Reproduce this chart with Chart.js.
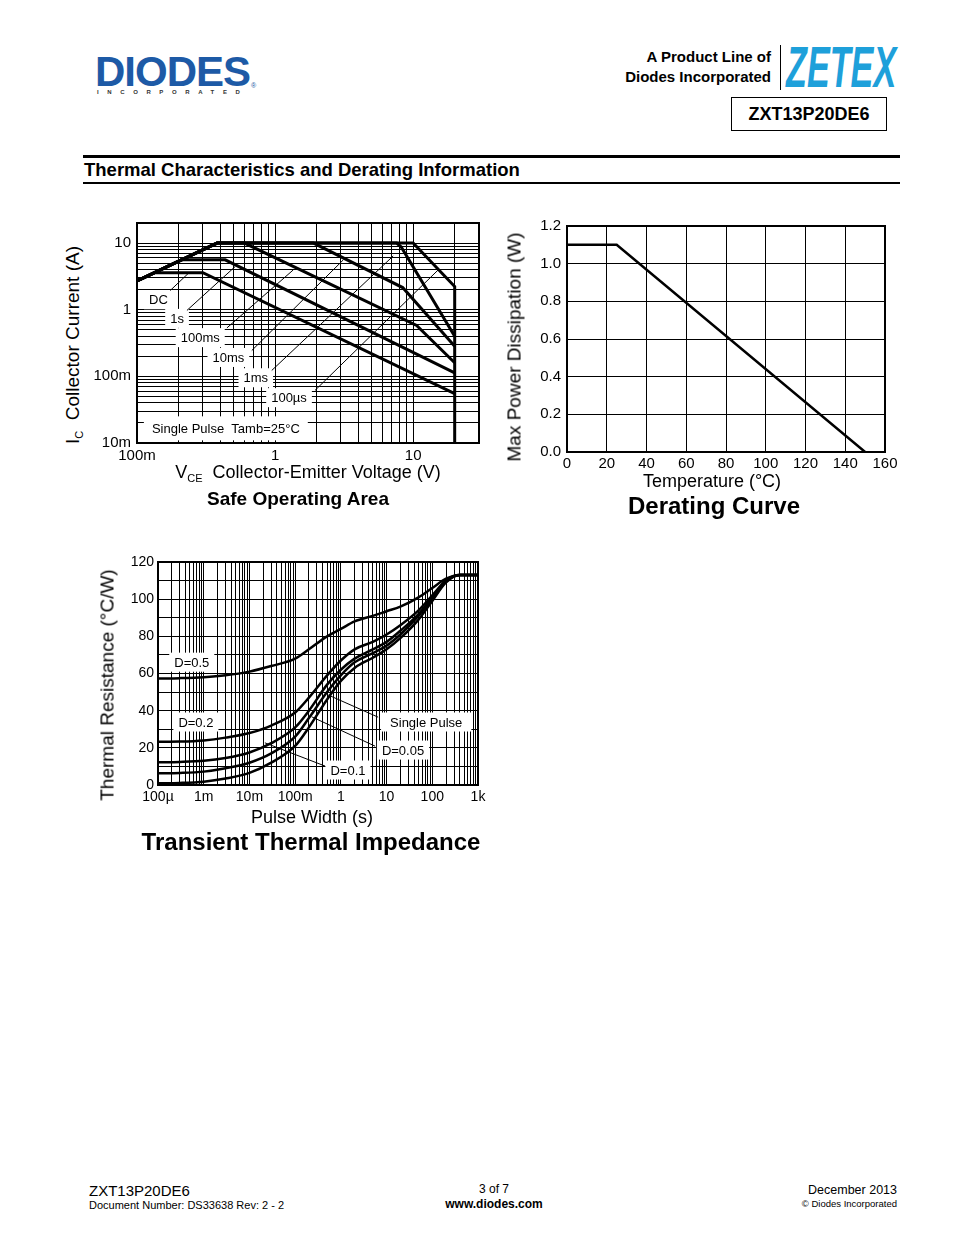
<!DOCTYPE html>
<html lang="en">
<head>
<meta charset="UTF-8">
<title>ZXT13P20DE6 - Thermal Characteristics and Derating Information</title>
<script src="https://cdn.jsdelivr.net/npm/chart.js"></script>
<style>
    body { margin: 0; background: #fff; }
    #page {
        position: relative;
        width: 954px;
        height: 1235px;
        overflow: hidden;
        font-family: "Liberation Sans", Arial, sans-serif;
        color: #000;
    }
    .abs { position: absolute; white-space: nowrap; line-height: 1; }
    .c { transform: translate(-50%, -50%); }
    .rot { transform: translate(-50%, -50%) rotate(-90deg); }
    .b { font-weight: bold; }
    .rule { position: absolute; background: #000; }
    canvas { position: absolute; }
    sub { font-size: 11px; vertical-align: -4px; }
</style>
</head>
<body>
<div id="page">
    <!-- header -->
    <div class="abs b" style="left:95px;top:51px;font-size:42px;color:#1d5aa6;letter-spacing:-1px;">DIODES</div>
    <div class="abs b" style="left:97px;top:89px;font-size:6px;color:#333;letter-spacing:8.6px;">INCORPORATED</div>
    <div class="abs" style="left:251px;top:82px;font-size:7px;color:#1d5aa6;">®</div>
    <div class="abs b" style="right:183px;top:47px;font-size:15px;line-height:20px;text-align:right;">A Product Line of<br>Diodes Incorporated</div>
    <div class="rule" style="left:780px;top:45px;width:1px;height:45px;"></div>
    <div class="abs b" style="left:786px;top:39px;font-size:57px;font-style:italic;color:#1ea0da;transform:scaleX(0.6);transform-origin:0 0;">ZETEX</div>
    <div class="abs b" style="left:731px;top:97px;width:156px;height:34px;box-sizing:border-box;border:1px solid #000;font-size:18px;display:flex;align-items:center;justify-content:center;">ZXT13P20DE6</div>

    <div class="rule" style="left:83px;top:155px;width:817px;height:3px;"></div>
    <div class="abs b" style="left:84px;top:161px;font-size:18.5px;">Thermal Characteristics and Derating Information</div>
    <div class="rule" style="left:83px;top:182px;width:817px;height:2px;"></div>

    <!-- safe operating area -->
    <canvas id="soa" width="405" height="255" style="left:85px;top:213px;width:405px;height:255px;"></canvas>
    <div class="abs rot" style="left:74px;top:345px;font-size:19px;">I<sub>C</sub>&nbsp; Collector Current (A)</div>
    <div class="abs c" style="left:308px;top:473px;font-size:18px;">V<sub>CE</sub>&nbsp; Collector-Emitter Voltage (V)</div>
    <div class="abs c b" style="left:298px;top:498px;font-size:19px;">Safe Operating Area</div>

    <!-- derating -->
    <canvas id="derating" width="380" height="265" style="left:520px;top:212px;width:380px;height:265px;"></canvas>
    <div class="abs rot" style="left:514px;top:347px;font-size:19px;">Max Power Dissipation (W)</div>
    <div class="abs c" style="left:712px;top:481px;font-size:18px;">Temperature (°C)</div>
    <div class="abs c b" style="left:714px;top:506px;font-size:24px;">Derating Curve</div>

    <!-- transient thermal impedance -->
    <canvas id="transient" width="385" height="260" style="left:110px;top:550px;width:385px;height:260px;"></canvas>
    <div class="abs rot" style="left:107px;top:685px;font-size:19px;">Thermal Resistance (°C/W)</div>
    <div class="abs c" style="left:312px;top:817px;font-size:18px;">Pulse Width (s)</div>
    <div class="abs c b" style="left:311px;top:842px;font-size:24px;">Transient Thermal Impedance</div>

    <!-- footer -->
    <div class="abs" style="left:89px;top:1183px;font-size:15px;">ZXT13P20DE6</div>
    <div class="abs" style="left:89px;top:1200px;font-size:11px;">Document Number: DS33638 Rev: 2 - 2</div>
    <div class="abs c" style="left:494px;top:1189px;font-size:12px;">3 of 7</div>
    <div class="abs c b" style="left:494px;top:1204px;font-size:12px;">www.diodes.com</div>
    <div class="abs" style="right:57px;top:1184px;font-size:12.5px;">December 2013</div>
    <div class="abs" style="right:57px;top:1199px;font-size:9.5px;">© Diodes Incorporated</div>
</div>

<script>
    // ---- Safe Operating Area: V_CE (V) against I_C (A) ----
    const dcV = [0.1, 0.135, 0.3, 20];
    const dcI = [2.7, 3.6, 3.6, 0.055];
    const s1V = [0.1, 0.21, 0.435, 20];
    const s1I = [2.7, 5.6, 5.6, 0.113];
    const ms100V = [0.1, 0.38, 0.6, 10.6, 20];
    const ms100I = [2.7, 10, 10, 0.58, 0.16];
    const ms10V = [0.1, 0.38, 1.9, 8.4, 20];
    const ms10I = [2.7, 10, 10, 2.15, 0.283];
    const ms1V = [0.1, 0.38, 7.6, 8.2, 20];
    const ms1I = [2.7, 10, 10, 8.7, 0.40];
    const us100V = [0.1, 0.38, 10, 20, 20];
    const us100I = [2.7, 10, 10, 2.23, 0.01];
    const soaXTickVals = [0.1, 1, 10];
    const soaXTickLabels = ['100m', '1', '10'];
    const soaYTickVals = [0.01, 0.1, 1, 10];
    const soaYTickLabels = ['10m', '100m', '1', '10'];

    // ---- Derating curve ----
    const tempC = [0, 25, 150];
    const powerW = [1.1, 1.1, 0];
    const derXTickVals = [0, 20, 40, 60, 80, 100, 120, 140, 160];
    const derYTickVals = [0, 0.2, 0.4, 0.6, 0.8, 1.0, 1.2];
    const derYTickLabels = ['0.0', '0.2', '0.4', '0.6', '0.8', '1.0', '1.2'];

    // ---- Transient thermal impedance (°C/W) ----
    const pulseWidth = [1e-4, 3e-4, 1e-3, 3e-3, 1e-2, 3e-2, 0.1, 0.2, 0.5, 1, 2, 5, 10, 20, 50, 100, 200, 400, 1000];
    const rthD05 = [57.3, 57.5, 58, 59, 61, 64, 68, 73, 80, 84, 88, 91, 93.5, 96, 101, 106, 111, 113, 113];
    const rthD02 = [23.3, 23.4, 24, 25.5, 28, 32, 39, 47, 59, 67, 73, 77, 81, 86, 94, 102, 110, 113, 113];
    const rthD01 = [12.2, 12.4, 13, 14.5, 17.5, 22.5, 31, 40, 54, 62, 68, 73, 77, 83, 92, 101, 110, 113, 113];
    const rthD005 = [6.3, 6.5, 7.2, 9, 12, 17, 26, 36, 50, 59, 66, 71, 75, 81, 91, 100, 109.5, 113, 113];
    const rthSingle = [0.9, 1.1, 1.8, 3.5, 6.5, 12, 21, 31, 46, 56, 63, 68.5, 73, 79, 89, 99, 109, 113, 113];
    const ttiXTickVals = [1e-4, 1e-3, 1e-2, 0.1, 1, 10, 100, 1000];
    const ttiXTickLabels = ['100µ', '1m', '10m', '100m', '1', '10', '100', '1k'];
    const ttiYTickVals = [0, 20, 40, 60, 80, 100, 120];

    // annotations (data units)
    const soaLabels = [
        { text: 'DC', x: 0.143, y: 1.41 },
        { text: '1s', x: 0.195, y: 0.741 },
        { text: '100ms', x: 0.287, y: 0.381 },
        { text: '10ms', x: 0.459, y: 0.192 },
        { text: '1ms', x: 0.725, y: 0.0953 },
        { text: '100µs', x: 1.262, y: 0.0479 },
        { text: 'Single Pulse  Tamb=25°C', x: 0.44, y: 0.0166, padX: 8, h: 24 }
    ];
    const soaLeaders = [
        [[0.174, 1.94], [0.236, 3.53]],
        [[0.23, 0.976], [0.514, 4.44]],
        [[0.448, 0.533], [1.356, 3.96]],
        [[0.678, 0.244], [3.12, 5.59]],
        [[0.946, 0.1226], [7.17, 6.4]],
        [[1.946, 0.0615], [15.2, 3.96]]
    ];
    const ttiLabels = [
        { text: 'D=0.5', x: 5.48e-4, y: 66.1 },
        { text: 'D=0.2', x: 6.75e-4, y: 33.9 },
        { text: 'Single Pulse', x: 73.6, y: 33.9, padX: 9 },
        { text: 'D=0.05', x: 22.9, y: 18.8 },
        { text: 'D=0.1', x: 1.43, y: 8.06 }
    ];
    const ttiLeaders = [
        [[6.53, 36.5], [0.532, 48.4]],
        [[5.61, 20.9], [0.23, 36.7]],
        [[0.45, 10.2], [0.0218, 22.7]]
    ];

    const FONT = '"Liberation Sans", Arial, sans-serif';
    Chart.defaults.font.family = FONT;
    Chart.defaults.color = '#000';

    const pts = (xs, ys) => xs.map((x, i) => ({ x: x, y: ys[i] }));

    function curve(xs, ys, w, smooth) {
        return {
            data: pts(xs, ys),
            borderColor: '#000',
            borderWidth: w,
            pointRadius: 0,
            fill: false,
            tension: 0,
            cubicInterpolationMode: smooth ? 'monotone' : 'default'
        };
    }

    function leader(seg) {
        return {
            data: seg.map(p => ({ x: p[0], y: p[1] })),
            borderColor: '#000',
            borderWidth: 1,
            pointRadius: 0,
            fill: false
        };
    }

    // grid lines at 1..9 x 10^n for log axes
    function logTicks(scale) {
        const out = [];
        let dec = Math.pow(10, Math.floor(Math.log10(scale.min) + 1e-9));
        while (dec < scale.max * 1.0001) {
            for (let m = 1; m < 10; m++) {
                const v = Number((m * dec).toPrecision(6));
                if (v >= scale.min * 0.9999 && v <= scale.max * 1.0001) out.push({ value: v });
            }
            dec = Number((dec * 10).toPrecision(6));
        }
        scale.ticks = out;
    }

    const fixedTicks = vals => scale => { scale.ticks = vals.map(v => ({ value: v })); };

    function pick(vals, labels) {
        return v => {
            const i = vals.findIndex(t => Math.abs(t - v) <= Math.abs(t) * 1e-6 + 1e-12);
            return i < 0 ? '' : (labels ? labels[i] : String(vals[i]));
        };
    }

    // fixed axis sizes, no extra room for edge labels
    const fitX = h => s => { s.height = h; s.paddingLeft = 0; s.paddingRight = 0; };
    const fitY = w => s => { s.width = w; s.paddingTop = 0; s.paddingBottom = 0; };

    // white boxed labels, drawn over the grid but under the curves
    function boxLabels(items) {
        return {
            id: 'boxLabels',
            beforeDatasetsDraw(chart) {
                const { ctx, scales } = chart;
                ctx.save();
                ctx.font = '13px ' + FONT;
                ctx.textAlign = 'center';
                ctx.textBaseline = 'middle';
                items.forEach(it => {
                    const px = scales.x.getPixelForValue(it.x);
                    const py = scales.y.getPixelForValue(it.y);
                    const w = ctx.measureText(it.text).width + 2 * (it.padX || 5);
                    const h = it.h || 19;
                    ctx.fillStyle = '#fff';
                    ctx.fillRect(px - w / 2, py - h / 2, w, h);
                    ctx.fillStyle = '#000';
                    ctx.fillText(it.text, px, py + 1);
                });
                ctx.restore();
            }
        };
    }

    const frame = {
        id: 'frame',
        afterDatasetsDraw(chart) {
            const { ctx, chartArea: a } = chart;
            ctx.save();
            ctx.strokeStyle = '#000';
            ctx.lineWidth = 2;
            ctx.strokeRect(a.left, a.top, a.right - a.left, a.bottom - a.top);
            ctx.restore();
        }
    };

    function axis(extra, tickSize, pad, fit) {
        return Object.assign({
            grid: { color: '#000', lineWidth: 1, drawTicks: false },
            border: { color: '#000', width: 2 },
            afterFit: fit
        }, extra, {
            ticks: Object.assign({ autoSkip: false, maxRotation: 0, padding: pad, font: { size: tickSize } }, extra.ticks)
        });
    }

    const baseOptions = (padTop, padRight) => ({
        responsive: false,
        animation: false,
        devicePixelRatio: 1,
        layout: { padding: { top: padTop, right: padRight, left: 0, bottom: 0 } },
        plugins: { legend: { display: false }, tooltip: { enabled: false } }
    });

    // Safe Operating Area
    new Chart(document.getElementById('soa'), {
        type: 'line',
        data: {
            datasets: [
                curve(dcV, dcI, 3), curve(s1V, s1I, 3), curve(ms100V, ms100I, 3),
                curve(ms10V, ms10I, 3), curve(ms1V, ms1I, 3), curve(us100V, us100I, 3)
            ].concat(soaLeaders.map(leader))
        },
        options: Object.assign(baseOptions(10, 11), {
            scales: {
                x: axis({ type: 'logarithmic', min: 0.1, max: 30, afterBuildTicks: logTicks,
                          ticks: { callback: pick(soaXTickVals, soaXTickLabels) } },
                        15, 4, fitX(25)),
                y: axis({ type: 'logarithmic', min: 0.01, max: 20, afterBuildTicks: logTicks,
                          ticks: { callback: pick(soaYTickVals, soaYTickLabels) } },
                        15, 6, fitY(52))
            }
        }),
        plugins: [boxLabels(soaLabels), frame]
    });

    // Derating Curve
    new Chart(document.getElementById('derating'), {
        type: 'line',
        data: { datasets: [curve(tempC, powerW, 2.5)] },
        options: Object.assign(baseOptions(14, 15), {
            scales: {
                x: axis({ type: 'linear', min: 0, max: 160, afterBuildTicks: fixedTicks(derXTickVals),
                          ticks: { callback: pick(derXTickVals) } },
                        15, 3, fitX(25)),
                y: axis({ type: 'linear', min: 0, max: 1.2, afterBuildTicks: fixedTicks(derYTickVals),
                          ticks: { callback: pick(derYTickVals, derYTickLabels) } },
                        15, 6, fitY(47))
            }
        }),
        plugins: [frame]
    });

    // Transient Thermal Impedance
    new Chart(document.getElementById('transient'), {
        type: 'line',
        data: {
            datasets: [
                curve(pulseWidth, rthD05, 2.5, true), curve(pulseWidth, rthD02, 2.5, true),
                curve(pulseWidth, rthD01, 2.5, true), curve(pulseWidth, rthD005, 2.5, true),
                curve(pulseWidth, rthSingle, 2.5, true)
            ].concat(ttiLeaders.map(leader))
        },
        options: Object.assign(baseOptions(12, 17), {
            scales: {
                x: axis({ type: 'logarithmic', min: 1e-4, max: 1000, afterBuildTicks: logTicks,
                          ticks: { callback: pick(ttiXTickVals, ttiXTickLabels) } },
                        14, 4, fitX(25)),
                y: axis({ type: 'linear', min: 0, max: 120, ticks: { stepSize: 10, callback: pick(ttiYTickVals) } },
                        14, 4, fitY(48))
            }
        }),
        plugins: [boxLabels(ttiLabels), frame]
    });
</script>
</body>
</html>
